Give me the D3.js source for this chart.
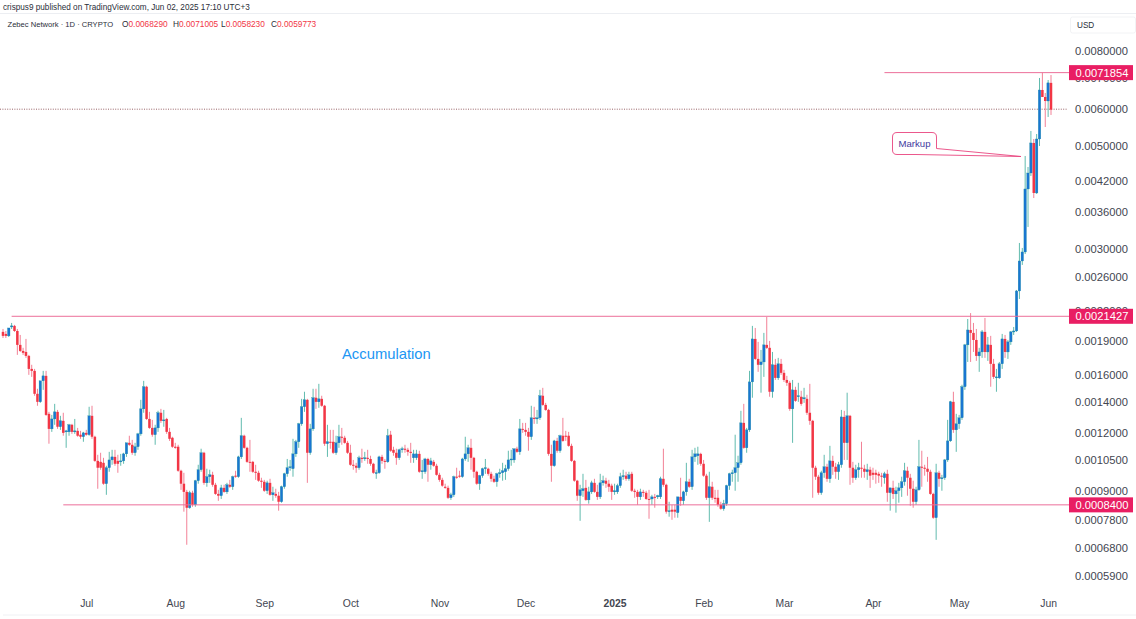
<!DOCTYPE html>
<html>
<head>
<meta charset="utf-8">
<script src="https://cdn.jsdelivr.net/npm/d3@7"></script>
<style>
  html, body { margin: 0; padding: 0; background: #fff; }
  text { font-family: "Liberation Sans", sans-serif; }
</style>
</head>
<body>
<div id="chart"></div>
<script>
// prices are in units of 0.0000001
var opens = [
19830,19630,19440,20320,20430,19920,18590,18040,17950,17600,
16500,16340,14580,14010,15550,15940,13200,12250,12870,13330,
12380,12750,12070,12070,12500,12070,12130,11900,11780,12010,
11900,13070,11780,10450,10400,10350,9330,10100,10500,10660,
10450,10400,10450,10820,11430,11320,10880,11210,11950,13530,
15100,12870,12310,11900,12310,13270,12750,12870,12070,11720,
11210,11210,9950,9330,8960,8280,8920,8400,9470,10000,
10880,9370,9660,9750,9280,8870,8790,9140,8960,9280,
9190,9710,9660,10660,11840,11150,10400,10400,9900,9850,
9470,9420,9010,9370,8830,8870,8790,8530,9190,9800,
10100,10050,10820,11490,12560,13670,14150,10880,12250,14300,
14010,14220,13740,11380,11490,11490,10880,11430,11780,11720,
11430,10880,10250,10200,10100,10610,10610,10610,10550,10300,
9850,9850,10660,10450,10400,11900,11040,10880,10610,11040,
11100,11040,10930,10610,10610,10820,9900,9900,10550,10250,
10400,10200,9750,9510,9190,9140,8700,8830,9660,9710,
9660,10550,10820,11150,10610,9900,9330,9710,10050,10050,
9800,9560,9420,9800,9850,9900,10050,10500,10500,11100,
10930,12250,12190,12070,11780,12940,12870,12940,14440,13800,
13460,10820,10200,11540,10990,11840,11840,11840,11260,10450,
9470,8790,9010,9140,8610,8960,9370,8960,8740,9370,
9470,9330,9240,8960,8960,9240,9660,9710,9560,9800,
9010,8960,8740,8960,8920,8650,8650,8740,8740,8740,
9560,9280,8120,8200,8200,8080,8740,8570,8960,9420,
9190,10660,10720,10820,10300,9710,8700,9190,8700,8700,
8400,8240,8450,9240,9800,9850,10100,10350,12620,11150,
12190,15470,19150,17340,16840,17080,18590,18320,14730,16840,
15780,16920,16180,15620,15400,13530,14870,14370,14370,14220,
14220,13270,12750,10100,9660,8920,9850,10150,9560,10450,
10150,9900,10250,13000,11430,13070,10100,9610,10000,10100,
10050,9900,10000,9850,9850,9800,9710,9610,9800,8920,
9140,8870,9010,9140,9420,9950,9610,9100,8530,9050,
10150,10100,10050,9900,8870,7880,9850,9560,9610,10500,
11540,14010,12190,12560,12940,15100,18590,20020,19730,19050,
17600,17950,19830,17950,18590,16920,15780,15780,16920,19150,
17950,18870,19830,19920,24300,28200,29490,40320,43650,50670,
39530,51680,65920,63670,62410,68290
];
var highs = [
20120,19920,19830,20730,20530,20120,19530,18320,19150,17690,
16840,16500,14950,15470,16340,16340,13330,13130,13870,13460,
13070,13270,12190,12560,12560,12870,12310,12130,12070,12190,
13670,13740,11840,10770,10880,10610,10200,10930,11040,11040,
10770,10820,10880,11430,11840,11600,11430,12010,14150,15550,
15170,13330,12810,12500,13400,13530,13460,12940,12310,11780,
11430,11320,10000,9850,9050,9010,9010,9510,10250,11100,
10930,10050,10000,9900,9370,9050,9280,9280,9370,9510,
9710,9950,10720,12940,11900,11210,11600,10450,10250,9950,
9610,9510,9470,9560,9190,9100,8960,9240,9850,10550,
10500,11660,11600,12620,14220,14730,14220,12560,14950,14950,
15320,14440,13800,12500,12190,12190,11840,12500,12310,11840,
11540,11320,10500,10350,10720,11100,10930,11040,10720,10350,
10000,10720,10770,10550,12250,12130,11210,11100,11100,11210,
11320,11150,11430,11040,11040,10990,10500,10610,10610,10610,
10500,10300,9850,9610,9330,9240,8920,9710,10100,9950,
10610,11780,11320,11660,10660,9950,9750,10100,10550,10100,
9900,9710,9850,10050,10350,10250,10990,11040,11100,11210,
12870,12620,12620,12310,13740,13670,13460,14870,15020,13940,
13530,11320,11600,11720,11900,12940,12130,12070,11380,10500,
9510,9280,9800,9510,9190,9470,9560,9280,9800,9710,
9610,9510,9330,9330,9330,9850,10000,9900,9900,9900,
9100,9050,9100,9050,9010,9050,8830,8870,8830,9660,
11100,9330,8530,8400,8400,8740,9610,9010,10350,9560,
11040,11150,11210,10880,10500,9800,9900,9420,9050,9050,
8530,8610,9280,9850,10000,11900,10720,13400,13870,12310,
16340,20430,20220,18870,18130,19730,21350,18960,17950,17340,
17430,17340,16420,15940,15550,15620,15100,15400,14800,15020,
14510,15320,12810,10200,9750,9950,10770,10300,11260,10720,
10350,10400,13460,13400,14660,13130,10400,10250,10350,11490,
10250,10300,10150,10100,10000,9900,9850,9900,10000,9140,
9470,9190,9370,9660,10350,10150,9800,9470,9190,11600,
10990,10250,10660,10000,8920,10300,9950,9750,10550,12810,
14080,14730,13200,13130,15250,18680,21140,21770,20730,20120,
18320,20020,21250,19340,19440,17340,16500,17080,19630,19530,
19050,19920,20320,24420,30840,30080,47500,44970,53780,51680,
52970,69970,71854,64940,69270,71005
];
var lows = [
19240,19240,19340,20120,19830,17690,17950,17690,17430,16020,
15860,14440,13740,13940,14870,13070,11380,12070,12500,12250,
12190,11840,11150,11840,11950,11950,11780,11660,11490,11840,
11840,11660,10400,9100,10000,9280,8830,9900,10250,10200,
9850,10200,10300,10660,11260,10770,10720,11040,11840,13270,
12810,12250,11780,11320,12070,12620,12380,11950,11540,11150,
11100,9900,9050,8120,6890,8240,8320,8320,9330,9900,
9280,9190,9370,9190,8830,8570,8650,8920,8870,9140,
9050,9610,9610,10550,11100,10350,9900,9850,9510,9420,
9140,8960,8870,8790,8570,8700,8160,8490,9100,9660,
9950,9660,10660,11150,12440,13330,9370,10770,12130,13530,
13600,13670,11260,10660,11100,10820,10770,11150,11320,11380,
10820,10200,10000,9850,10000,10350,10450,10300,10200,9800,
9560,9800,10300,10050,10350,10930,10720,10250,10500,10880,
10880,10720,10350,10350,10500,9850,9560,9800,9420,10000,
10150,9710,9420,9190,9100,8650,8610,8740,9560,9610,
9610,10450,10400,10000,9610,9280,9050,9610,9800,9710,
9420,9370,9190,9610,9470,9510,9950,10200,10350,10880,
10770,12010,11840,10990,11600,12560,12560,12810,13740,13400,
10720,9420,10150,10880,10880,11490,11540,11210,10400,9420,
8570,7760,8740,8570,8450,8870,8920,8610,8650,9240,
9140,8960,8610,8830,8870,9140,9510,9470,9470,8960,
8700,8400,8610,8740,8610,7840,8400,8280,8650,8650,
9190,8040,7920,7800,7880,7880,8360,8400,8790,9140,
9050,10400,10250,10200,9660,8610,7720,8610,8490,8320,
8200,8160,8360,9050,9420,9010,9420,10250,11100,10880,
12070,14300,17250,16260,14660,15860,18220,14370,14300,15620,
15620,16020,15470,15170,13400,11430,14010,14010,13740,13940,
13130,12500,8700,9510,8830,8830,9610,9420,9370,9750,
9560,9510,10100,10500,10500,9280,9370,9510,9610,9610,
9610,9510,9140,9510,9330,9370,9190,9330,8530,8160,
8650,8080,8490,8740,9240,8790,8360,8280,8400,9010,
9190,9710,9420,8830,7840,7060,9190,9010,9510,10400,
11490,12010,10930,12250,12810,14870,17080,17080,17950,17170,
16260,17430,17430,17170,15100,15700,14730,15700,16500,17430,
17340,18590,19530,19830,23350,27650,29190,33390,43010,38550,
39340,49910,63670,54850,57650,58230
];
var closes = [
19440,19440,20220,20430,19920,18590,18040,17870,17600,16500,
16340,14580,14010,15550,15940,13130,12250,12870,13330,12380,
12750,12010,12130,12500,12070,12130,11840,11780,12010,11900,
13070,11780,10450,10100,10100,9330,10100,10500,10660,10300,
10300,10450,10820,11430,11320,10880,11210,11950,13530,15100,
12870,12310,11900,12310,13270,12750,12810,12070,11660,11210,
11150,9950,9330,8960,8280,8920,8400,9470,10000,10880,
9370,9660,9750,9280,8870,8790,9140,8960,9280,9190,
9660,9660,10660,11840,11150,10400,10350,9900,9850,9470,
9420,9010,9370,8830,8920,8790,8530,9190,9800,10100,
10150,10820,11490,12560,13670,14150,10880,12250,14300,14010,
14220,13740,11380,11490,11430,10880,11430,11780,11720,11430,
10880,10250,10200,10100,10610,10550,10610,10550,10300,9850,
9860,10660,10450,10400,11840,10990,10880,10610,11040,11100,
11040,10930,10880,10820,10820,9900,9950,10550,10250,10450,
10200,9750,9510,9240,9140,8700,8830,9660,9610,9660,
10550,10820,11150,10610,9900,9330,9710,10050,10100,9800,
9560,9420,9800,9850,9950,10050,10500,10550,11100,10930,
12250,12190,12070,11780,12940,12870,12940,14440,13800,13460,
10820,10200,11540,10990,11840,11540,11780,11260,10450,9470,
8790,9050,9100,8610,8960,9370,8960,8740,9370,9470,
9330,9190,8960,9010,9240,9660,9710,9560,9750,9010,
8960,8740,8960,8920,8650,8610,8740,8720,8790,9560,
9280,8120,8160,8120,8120,8740,8570,8960,9420,9190,
10660,10820,10820,10300,9710,8700,9190,8700,8650,8400,
8240,8450,9240,9800,9850,10100,10350,12620,11150,12190,
15470,19150,17340,16840,17080,18590,18320,14730,16840,15780,
16920,16180,15620,15400,13530,14870,14080,14440,13870,14300,
13270,12750,10100,9660,8920,9850,10150,9560,10450,10150,
9900,10250,13000,11430,13070,10100,9610,10000,10100,10050,
9900,10000,9710,9750,9750,9710,9660,9800,8920,9140,
8870,9010,9140,9420,9950,9610,9100,8530,9050,10150,
10100,10050,9900,8870,7880,9850,9560,9610,10500,11540,
14010,12190,12560,12940,15100,18590,20020,19730,19050,17600,
17950,19830,17950,18590,16920,15860,15860,16920,19150,17950,
18870,19830,19920,24300,28200,29490,40320,43650,50670,39530,
51680,65920,63670,62410,68290,59773
];

var firstDay = new Date(2024, 5, 2);
var lastDay = new Date(2025, 5, 2);
var days = d3.timeDay.range(firstDay, d3.timeDay.offset(lastDay, 1));

var priceTicks = [80000, 70000, 60000, 50000, 42000, 36000, 30000, 26000, 22000, 19000, 16000, 14000, 12000, 10500, 9000, 7800, 6800, 5900];
var monthStarts = [new Date(2024, 6, 1), new Date(2024, 7, 1), new Date(2024, 8, 1), new Date(2024, 9, 1), new Date(2024, 10, 1), new Date(2024, 11, 1), new Date(2025, 0, 1), new Date(2025, 1, 1), new Date(2025, 2, 1), new Date(2025, 3, 1), new Date(2025, 4, 1), new Date(2025, 5, 1)];
var monthLabels = ["Jul", "Aug", "Sep", "Oct", "Nov", "Dec", "2025", "Feb", "Mar", "Apr", "May", "Jun"];

// horizontal levels drawn on the chart
var levelPrices = [71854, 21427, 8400];
var levelStarts = [new Date(2025, 3, 5), new Date(2024, 5, 5), new Date(2024, 5, 23)];
var lastClose = 59773;

var width = 1136, height = 619;
var svg = d3.select("#chart").append("svg")
    .attr("width", width).attr("height", height)
    .style("display", "block");

var x = d3.scaleTime().domain([firstDay, lastDay]).range([3, 1051]);
var y = d3.scaleLog().domain([80000, 5900]).range([51, 576]);
var fmt = function (v) { return (v * 1e-7).toFixed(7); };

// header
svg.append("line").attr("x1", 0).attr("x2", width).attr("y1", 13.5).attr("y2", 13.5)
    .attr("stroke", "#eceef2");
svg.append("text").attr("x", 3).attr("y", 10)
    .attr("font-size", "8.2px").attr("fill", "#2a2e39")
    .text("crispus9 published on TradingView.com, Jun 02, 2025 17:10 UTC+3");

var legendY = 27;
svg.append("text").attr("x", 7.5).attr("y", legendY)
    .attr("font-size", "7.6px").attr("fill", "#2a2e39")
    .text("Zebec Network · 1D · CRYPTO");
var legend = [["O", 122, 68290], ["H", 173, 71005], ["L", 221, 58230], ["C", 271, 59773]];
legend.forEach(function (d) {
    var t = svg.append("text").attr("x", d[1]).attr("y", legendY).attr("font-size", "8.3px");
    t.append("tspan").attr("fill", "#2a2e39").text(d[0]);
    t.append("tspan").attr("fill", "#f23645").text(fmt(d[2]));
});

// last price line
svg.append("line")
    .attr("x1", 0).attr("x2", 1068)
    .attr("y1", y(lastClose) - 0.5).attr("y2", y(lastClose) - 0.5)
    .attr("stroke", "#7d3b40").attr("stroke-width", 0.8).attr("stroke-dasharray", "1 1.4");

// candles
var candles = svg.append("g").selectAll("g")
    .data(days)
    .enter().append("g");

candles.append("line")
    .attr("x1", function (d) { return x(d); })
    .attr("x2", function (d) { return x(d); })
    .attr("y1", function (d, i) { return y(highs[i]); })
    .attr("y2", function (d, i) { return y(lows[i]); })
    .attr("stroke-width", 0.9)
    .attr("stroke", function (d, i) { return closes[i] >= opens[i] ? "#4fb3a5" : "#f0738a"; });

candles.append("rect")
    .attr("x", function (d) { return x(d) - 1.25; })
    .attr("width", 2.5)
    .attr("y", function (d, i) { return y(Math.max(opens[i], closes[i])); })
    .attr("height", function (d, i) { return Math.max(1, y(Math.min(opens[i], closes[i])) - y(Math.max(opens[i], closes[i]))); })
    .attr("fill", function (d, i) { return closes[i] >= opens[i] ? "#1976d2" : "#f23645"; })
    .attr("stroke", function (d, i) { return closes[i] >= opens[i] ? "#1b8f9c" : "none"; })
    .attr("stroke-width", 0.3);

// level lines
levelPrices.forEach(function (p, i) {
    svg.append("line")
        .attr("x1", x(levelStarts[i])).attr("x2", 1069)
        .attr("y1", y(p)).attr("y2", y(p))
        .attr("stroke", "#ec6f9a").attr("stroke-width", 1);
});

// annotations
svg.append("text").attr("x", 342).attr("y", 359)
    .attr("font-size", "14.8px").attr("fill", "#2196f3")
    .text("Accumulation");

svg.append("path")
    .attr("d", "M897,132.5 H932 Q936.5,132.5 936.5,137 V148.5 L1021,156.5 L916,154.5 H897 Q892.5,154.5 892.5,150 V137 Q892.5,132.5 897,132.5 Z")
    .attr("fill", "#fff").attr("stroke", "#e9457f").attr("stroke-width", 0.9);
svg.append("text").attr("x", 898.5).attr("y", 146.5)
    .attr("font-size", "9.6px").attr("fill", "#3f3a9e")
    .text("Markup");

// price axis
var yAxis = svg.append("g")
    .attr("transform", "translate(1075,0)")
    .call(d3.axisRight(y).tickValues(priceTicks).tickFormat(fmt).tickSize(0).tickPadding(0));
yAxis.select(".domain").remove();
yAxis.selectAll("text")
    .attr("font-family", "Liberation Sans, sans-serif")
    .attr("font-size", "11.2px").attr("fill", "#434651");

svg.append("rect").attr("x", 1070.5).attr("y", 17).attr("width", 65).attr("height", 16).attr("rx", 2)
    .attr("fill", "none").attr("stroke", "#f2f3f5");
svg.append("text").attr("x", 1077).attr("y", 28)
    .attr("font-size", "8.2px").attr("fill", "#2a2e39")
    .text("USD");

// level price tags
levelPrices.forEach(function (p) {
    svg.append("rect")
        .attr("x", 1069).attr("y", y(p) - 7.5).attr("width", 64).attr("height", 15)
        .attr("fill", "#e91e63");
    svg.append("text")
        .attr("x", 1075.5).attr("y", y(p) + 4)
        .attr("font-size", "11.2px").attr("fill", "#fff")
        .text(fmt(p));
});

// time axis
var xAxis = svg.append("g")
    .attr("transform", "translate(0,600)")
    .call(d3.axisBottom(x).tickValues(monthStarts)
        .tickFormat(function (d, i) { return monthLabels[i]; })
        .tickSize(0).tickPadding(0));
xAxis.select(".domain").remove();
xAxis.selectAll("text")
    .attr("font-family", "Liberation Sans, sans-serif")
    .attr("font-size", "10.4px").attr("fill", "#434651")
    .attr("font-weight", function (d, i) { return monthLabels[i] === "2025" ? "bold" : "normal"; });

svg.append("line").attr("x1", 3).attr("x2", width).attr("y1", 615).attr("y2", 615)
    .attr("stroke", "#f0f1f4");
</script>
</body>
</html>
